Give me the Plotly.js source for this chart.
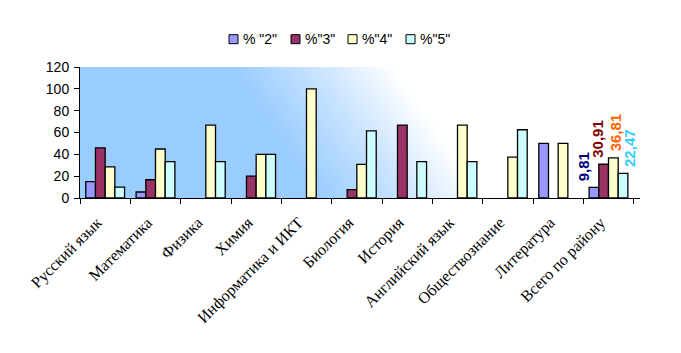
<!DOCTYPE html>
<html>
<head>
<meta charset="utf-8">
<script src="https://cdn.plot.ly/plotly-3.0.1.min.js"></script>
<style>html,body{margin:0;padding:0;background:#fff}#chart{width:681px;height:353px}</style>
</head>
<body>
<div id="chart"></div>
<script>
const categories = ['Русский язык','Математика','Физика','Химия','Информатика и ИКТ','Биология','История','Английский язык','Обществознание','Литература','Всего по району'];
const seriesNames = ['% "2"', '%"3"', '%"4"', '%"5"'];
const s2 = [15, 5.5, null, null, null, null, null, null, null, 50, 9.81];
const s3 = [46, 16.7, null, 20, null, 7.7, 66.7, null, null, null, 30.91];
const s4 = [28.5, 44.9, 66.7, 40, 100, 30.8, null, 66.7, 37.5, 50, 36.81];
const s5 = [10, 33.3, 33.3, 40, null, 61.5, 33.3, 33.3, 62.5, null, 22.47];
const totalLabels = ['9,81', '30,91', '36,81', '22,47'];
const yTicks = [0, 20, 40, 60, 80, 100, 120];

const colors = ['#9999FF', '#993366', '#FFFFCC', '#CCFFFF'];
const labelColors = ['#000080', '#800000', '#FF6600', '#33CCFF'];
const allSeries = [s2, s3, s4, s5];

const traces = allSeries.map((vals, i) => ({
  type: 'bar', x: categories, y: vals, name: seriesNames[i],
  marker: {color: colors[i], line: {color: '#000', width: 1.3}},
  hoverinfo: 'none'
}));

const last = categories[categories.length - 1];
const xShifts = [-25, -11, 7, 21];
const annotations = allSeries.map((vals, i) => ({
  x: last, y: vals[vals.length - 1], xref: 'x', yref: 'y',
  text: totalLabels[i], textangle: -90, showarrow: false,
  xanchor: 'center', yanchor: 'bottom', xshift: xShifts[i], yshift: 4,
  font: {family: 'Liberation Sans, Arial', size: 15, color: labelColors[i], weight: 'bold'}
}));

// legend drawn manually
const legX = [229, 291, 348, 406];
const px = v => (v - 80) / 560;
const py = v => (198.3 - v) / 131;
const shapes = [];
seriesNames.forEach((n, i) => {
  shapes.push({type: 'rect', xref: 'paper', yref: 'paper',
    x0: px(legX[i]), x1: px(legX[i] + 9), y0: py(44), y1: py(35),
    fillcolor: colors[i], line: {color: '#000', width: 1}});
  annotations.push({xref: 'paper', yref: 'paper', x: px(legX[i] + 12), y: py(39.5),
    xanchor: 'left', yanchor: 'middle', showarrow: false, text: n,
    font: {family: 'Liberation Sans, Arial', size: 14, color: '#000'}});
});

const svg = '<svg xmlns="http://www.w3.org/2000/svg" width="560" height="131" viewBox="0 0 560 131" preserveAspectRatio="none">' +
  '<defs><linearGradient id="g" gradientUnits="userSpaceOnUse" x1="150" y1="0" x2="262" y2="-77">' +
  '<stop offset="0" stop-color="#99CCFF"/><stop offset="0.5" stop-color="#C8E3FF"/><stop offset="1" stop-color="#FFFFFF"/></linearGradient></defs>' +
  '<rect x="0" y="0" width="560" height="131" fill="url(#g)"/></svg>';

const layout = {
  width: 681, height: 353,
  margin: {l: 80, r: 41, t: 67, b: 155},
  paper_bgcolor: '#fff', plot_bgcolor: 'rgba(0,0,0,0)',
  font: {family: 'Liberation Sans, Arial', size: 14, color: '#000'},
  showlegend: false,
  barmode: 'group', bargap: 0.23, bargroupgap: 0,
  xaxis: {
    type: 'category', showline: true, linecolor: '#000', linewidth: 1,
    ticks: 'outside', ticklen: 5, tickcolor: '#000', tickson: 'boundaries',
    tickangle: -45, tickfont: {family: 'Liberation Serif, Times New Roman', size: 16, color: '#000'},
    ticklabelstandoff: 8, ticklabelshift: -8,
    showgrid: false, zeroline: false
  },
  yaxis: {
    range: [0, 120], tickvals: yTicks, showline: true, linecolor: '#000', linewidth: 1,
    ticks: 'outside', ticklen: 5, tickcolor: '#000', showgrid: false, zeroline: false,
    tickfont: {family: 'Liberation Sans, Arial', size: 14, color: '#000'}, ticklabelstandoff: 2
  },
  images: [{
    source: 'data:image/svg+xml;base64,' + btoa(svg),
    xref: 'paper', yref: 'paper', x: 0, y: 1, sizex: 1, sizey: 1,
    xanchor: 'left', yanchor: 'top', sizing: 'stretch', layer: 'below'
  }],
  shapes: shapes,
  annotations: annotations
};

Plotly.newPlot('chart', traces, layout, {staticPlot: true});
</script>
</body>
</html>
